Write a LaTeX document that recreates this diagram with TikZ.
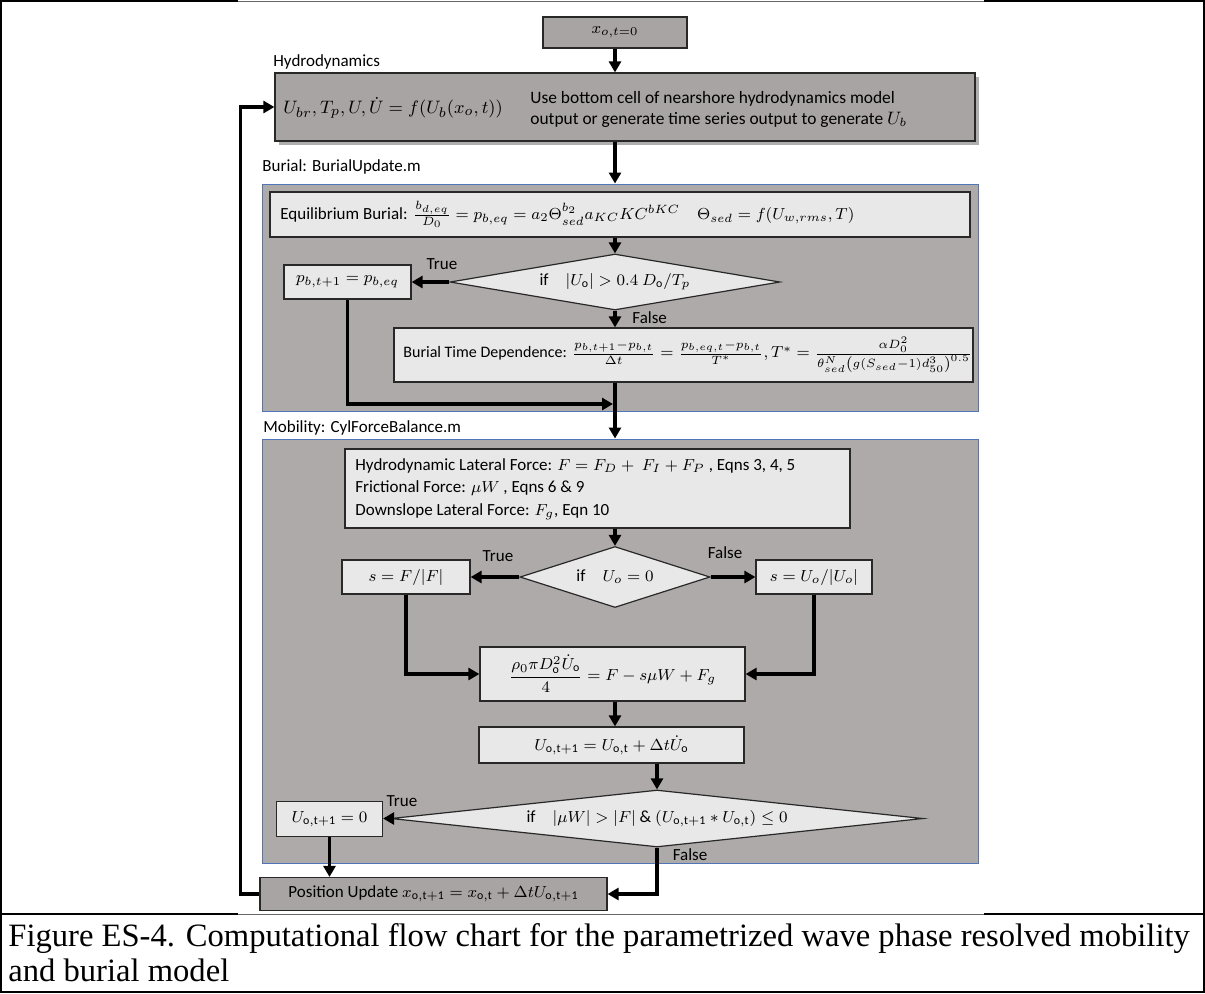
\documentclass[tikz,border=0pt]{standalone}
\usepackage{amsmath}
\usepackage{fontspec}
\setmainfont{Carlito}
\newfontfamily\capfont{Liberation Serif}
\usetikzlibrary{arrows.meta,shapes.geometric,shadows,calc}
\definecolor{darkbox}{RGB}{168,164,163}
\definecolor{contfill}{RGB}{174,170,169}
\definecolor{lightbox}{RGB}{232,232,232}
\definecolor{contline}{RGB}{79,118,184}
\definecolor{boxline}{RGB}{40,40,40}
\begin{document}
\begin{tikzpicture}[x=0.5pt,y=-0.5pt, font=\fontsize{8.5}{10}\selectfont,
  dbox/.style={draw=boxline, line width=0.6pt, fill=darkbox, inner sep=0pt},
  lbox/.style={draw=boxline, line width=0.6pt, fill=lightbox, inner sep=0pt},
  cont/.style={draw=contline, line width=0.5pt, fill=contfill, inner sep=0pt},
  dia/.style={diamond, draw=boxline, line width=0.6pt, fill=lightbox, inner sep=0pt},
  arr/.style={line width=1.6pt, -{Triangle[length=5.5pt,width=6pt]}},
  lbl/.style={inner sep=0pt, anchor=west},
  txt/.style={inner sep=0pt},
  frame/.style={line width=1.1pt, black},
  thin/.style={line width=0.4pt, black!60},
]
\useasboundingbox (0,0) rectangle (1205,993);
% outer frame
\draw[frame] (0,1) -- (238,1);
\draw[frame] (984,1) -- (1205,1);
\draw[thin] (238,1) -- (984,1);
\draw[frame] (1,0) -- (1,993);
\draw[frame] (1204,0) -- (1204,993);
\draw[frame] (0,992) -- (1205,992);
\draw[frame] (0,914) -- (238,914);
\draw[frame] (984,914) -- (1205,914);
\draw[thin] (238,914) -- (984,914);

\coordinate (cx) at (615,0);

% start
\node[dbox, minimum width=72pt, minimum height=15.5pt] (start) at (615,32.5) {$x_{o,t=0}$};

% hydrodynamics
\node[lbl] (lhyd) at (273,62) {Hydrodynamics};
\node[dbox, minimum width=350pt, minimum height=34pt,
  drop shadow={shadow xshift=2pt, shadow yshift=-2pt, opacity=0.45, fill=black!70}] (hydro) at (625,107) {};
\node[txt, anchor=west, font=\fontsize{9.3}{11}\selectfont] (hf) at (283,108) {$U_{br}, T_p, U, \dot{U} = f(U_b(x_o,t))$};
\node[txt, anchor=west, align=left, font=\fontsize{8.7}{10.5}\selectfont] (ht) at (530,109)
  {Use bottom cell of nearshore hydrodynamics model\\output or generate time series output to generate $U_b$};

% burial
\node[lbl] (lbur) at (262,167) {Burial: BurialUpdate.m};
\node[cont, minimum width=358pt, minimum height=113.5pt] (burial) at (620,297.5) {};
\node[lbox, minimum width=350pt, minimum height=22.5pt] (eq) at (620,214.5) {};
\node[txt, anchor=west] (eqt) at (280,214.5)
  {Equilibrium Burial: $\frac{b_{d,eq}}{D_0} = p_{b,eq} = a_2\Theta_{sed}^{b_2}a_{KC}KC^{bKC}$\quad $\Theta_{sed} = f(U_{w,rms},T)$};
\node[dia, minimum width=165pt, minimum height=28pt] (d1) at (615,282) {};
\node[txt] (d1t) at (615,282) {if\quad $|U_\mathrm{o}| > 0.4\ D_\mathrm{o}/T_p$};
\node[lbox, minimum width=63.5pt, minimum height=17pt] (pb) at (347.5,282) {$p_{b,t+1} = p_{b,eq}$};
\node[lbox, minimum width=289.5pt, minimum height=27pt] (time) at (683.5,355) {};
\node[txt, anchor=west, font=\fontsize{8}{9.5}\selectfont] (timet) at (403,355)
  {Burial Time Dependence: $\frac{p_{b,t+1}-p_{b,t}}{\Delta t} = \frac{p_{b,eq,t}-p_{b,t}}{T^*}, T^* = \frac{\alpha D_0^2}{\theta_{sed}^N\left(g(S_{sed}-1)d_{50}^3\right)^{0.5}}$};
\node[txt] (t1) at (442,264) {True};
\node[txt, anchor=west] (f1) at (632,318) {False};
\coordinate (m1) at (613,404);

% mobility
\node[lbl] (lmob) at (263,428) {Mobility: CylForceBalance.m};
\node[cont, minimum width=358pt, minimum height=212pt] (mob) at (620,651) {};
\node[lbox, minimum width=252.5pt, minimum height=39.5pt] (forces) at (597.5,488.5) {};
\node[txt, anchor=west, align=left, font=\fontsize{8.5}{11.25}\selectfont] (forcest) at (355,489)
  {Hydrodynamic Lateral Force: $F = F_D +\ F_I + F_P$ , Eqns 3, 4, 5\\
   Frictional Force: $\mu W$ , Eqns 6 \& 9\\
   Downslope Lateral Force: $F_g$, Eqn 10};
\node[dia, minimum width=95pt, minimum height=30.5pt] (d2) at (615,577) {};
\node[txt] (d2t) at (615,577) {if\quad $U_o = 0$};
\node[lbox, minimum width=64pt, minimum height=17pt] (sl) at (406,577) {$s = F/|F|$};
\node[lbox, minimum width=58pt, minimum height=17pt] (sr) at (814,577) {$s = U_o/|U_o|$};
\node[txt] (t2) at (498,556) {True};
\node[txt] (f2) at (725,553) {False};
\node[lbox, minimum width=132.5pt, minimum height=27pt] (eqm) at (612.5,674)
  {$\dfrac{\rho_0\pi D_\mathrm{o}^2\dot{U}_\mathrm{o}}{4} = F - s\mu W + F_g$};
\node[lbox, minimum width=132.5pt, minimum height=18pt] (ub) at (611.5,745)
  {$U_{\mathrm{o,t+1}} = U_{\mathrm{o,t}} + \Delta t\dot{U}_\mathrm{o}$};
\node[dia, minimum width=266pt, minimum height=28.5pt] (d3) at (657,818.5) {};
\node[txt] (d3t) at (657,818.5) {if\quad $|\mu W| > |F|\ \&\ (U_{\mathrm{o,t+1}} * U_{\mathrm{o,t}}) \leq 0$};
\node[lbox, minimum width=53pt, minimum height=17.5pt] (u0) at (329.5,819) {$U_{\mathrm{o,t+1}} = 0$};
\node[txt] (t3) at (402,801) {True};
\node[txt] (f3) at (690,855) {False};

% position update
\node[dbox, minimum width=173.5pt, minimum height=16.5pt] (pos) at (433.5,894)
  {Position Update $x_{\mathrm{o,t+1}} = x_{\mathrm{o,t}} + \Delta t U_{\mathrm{o,t+1}}$};

% connectors
\draw[arr] (start.south) -- (cx |- hydro.north);
\draw[arr] (cx |- hydro.south) -- (cx |- burial.north);
\draw[arr] (cx |- eq.south) -- (d1.north);
\draw[arr] (d1.west) -- (pb.east);
\draw[arr] (d1.south) -- (cx |- time.north);
\draw[arr] (pb.south) |- (m1);
\draw[arr] (cx |- time.south) -- (cx |- mob.north);
\draw[arr] (cx |- forces.south) -- (d2.north);
\draw[arr] (d2.west) -- (sl.east);
\draw[arr] (d2.east) -- (sr.west);
\draw[arr] (sl.south) |- (eqm.west);
\draw[arr] (sr.south) |- (eqm.east);
\draw[arr] (cx |- eqm.south) -- (cx |- ub.north);
\draw[arr] (ub.south -| d3.north) -- (d3.north);
\draw[arr] (d3.west) -- (d3.west -| u0.east);
\draw[arr] (u0.south) -- (u0.south |- pos.north);
\draw[arr] (d3.south) |- (pos.east);
\draw[arr] (pos.west) -- ++(-19,0) |- (hydro.west);

% caption
\node[txt, anchor=north west, align=left, font=\capfont\fontsize{16.3}{17.5}\selectfont] (cap) at (8,923)
  {Figure ES-4. Computational flow chart for the parametrized wave phase resolved mobility\\and burial model};
\end{tikzpicture}
\end{document}
